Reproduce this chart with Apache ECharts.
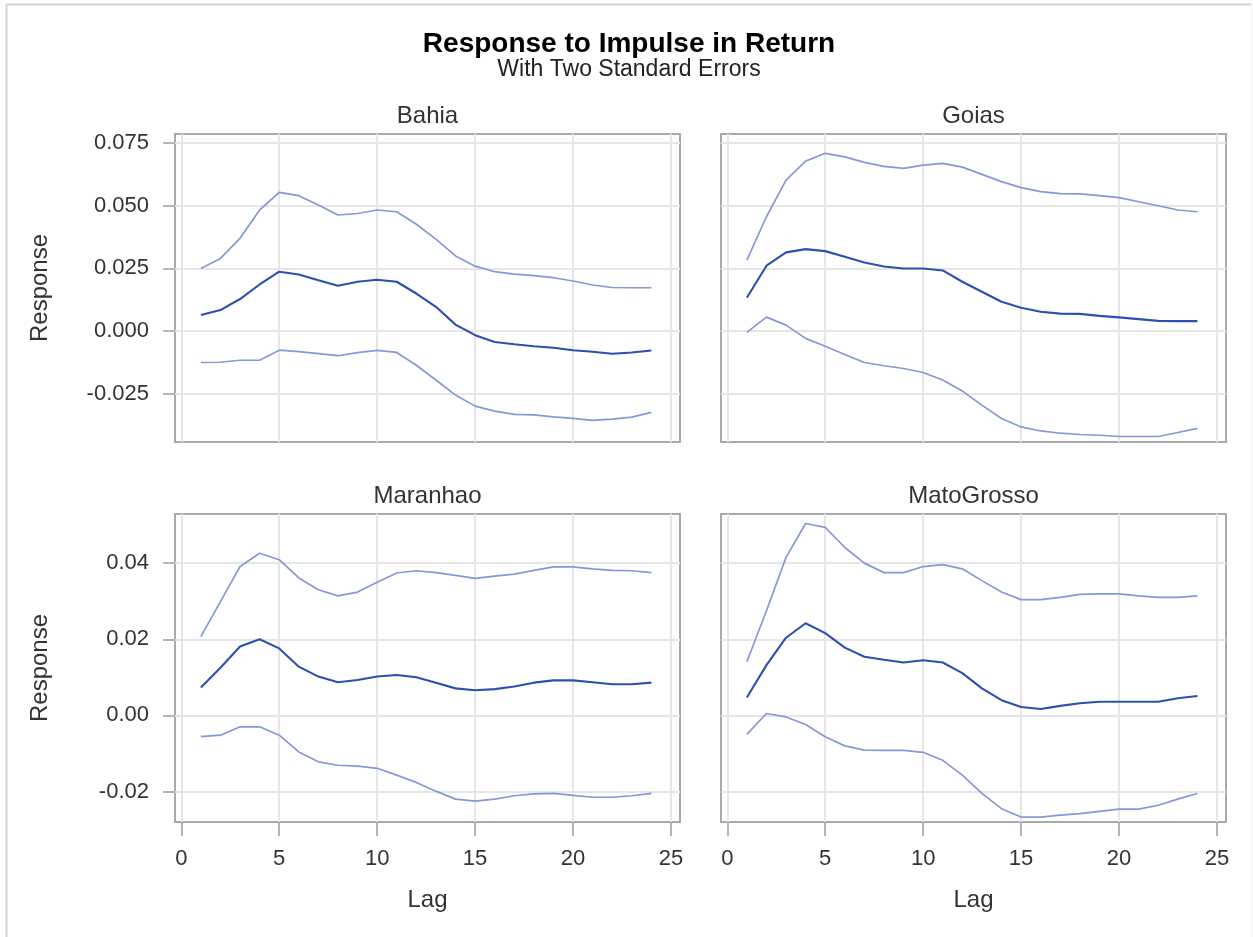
<!DOCTYPE html>
<html>
<head>
<meta charset="utf-8">
<title>Response to Impulse in Return</title>
<script src="https://cdn.jsdelivr.net/npm/echarts@6/dist/echarts.min.js"></script>
<style>
  html, body { margin: 0; padding: 0; background: #fff; }
  #chart { width: 1253px; height: 937px; }
</style>
</head>
<body>
<div id="chart"></div>
<script>
// Lags shared by every panel
const lags = [1, 2, 3, 4, 5, 6, 7, 8, 9, 10, 11, 12, 13, 14, 15, 16, 17, 18, 19, 20, 21, 22, 23, 24];

// Impulse response with upper / lower two-standard-error bounds, per state
const bahiaResp  = [0.0064, 0.0084, 0.0128, 0.0186, 0.0237, 0.0226, 0.0203, 0.0181, 0.0197, 0.0205, 0.0197, 0.0150,
                    0.0097, 0.0026, -0.0016, -0.0043, -0.0052, -0.0060, -0.0066, -0.0076, -0.0082, -0.0090, -0.0085, -0.0077];
const bahiaUpper = [0.0250, 0.0290, 0.0370, 0.0483, 0.0553, 0.0540, 0.0503, 0.0463, 0.0469, 0.0483, 0.0476, 0.0426,
                    0.0367, 0.0300, 0.0259, 0.0237, 0.0227, 0.0221, 0.0213, 0.0200, 0.0184, 0.0174, 0.0173, 0.0173];
const bahiaLower = [-0.0125, -0.0124, -0.0116, -0.0116, -0.0076, -0.0082, -0.0090, -0.0098, -0.0086, -0.0077, -0.0085, -0.0136,
                    -0.0195, -0.0255, -0.0299, -0.0319, -0.0332, -0.0334, -0.0342, -0.0348, -0.0356, -0.0351, -0.0343, -0.0324];

const goiasResp  = [0.0133, 0.0261, 0.0314, 0.0327, 0.0319, 0.0297, 0.0274, 0.0258, 0.0250, 0.0250, 0.0242, 0.0197,
                    0.0157, 0.0117, 0.0093, 0.0077, 0.0070, 0.0069, 0.0061, 0.0055, 0.0048, 0.0041, 0.0040, 0.0040];
const goiasUpper = [0.0283, 0.0456, 0.0602, 0.0678, 0.0709, 0.0695, 0.0673, 0.0657, 0.0649, 0.0662, 0.0669, 0.0654,
                    0.0625, 0.0596, 0.0572, 0.0556, 0.0548, 0.0547, 0.0540, 0.0532, 0.0516, 0.0500, 0.0483, 0.0476];
const goiasLower = [-0.0005, 0.0056, 0.0024, -0.0029, -0.0060, -0.0093, -0.0125, -0.0138, -0.0149, -0.0165, -0.0195, -0.0239,
                    -0.0295, -0.0348, -0.0382, -0.0398, -0.0407, -0.0412, -0.0415, -0.0420, -0.0420, -0.0420, -0.0404, -0.0388];

const maranhaoResp  = [0.0073, 0.0125, 0.0181, 0.0200, 0.0176, 0.0128, 0.0102, 0.0087, 0.0093, 0.0102, 0.0106, 0.0100,
                       0.0086, 0.0071, 0.0066, 0.0069, 0.0076, 0.0086, 0.0092, 0.0092, 0.0087, 0.0082, 0.0082, 0.0086];
const maranhaoUpper = [0.0207, 0.0299, 0.0391, 0.0426, 0.0409, 0.0361, 0.0330, 0.0314, 0.0324, 0.0350, 0.0374, 0.0380,
                       0.0375, 0.0368, 0.0360, 0.0366, 0.0371, 0.0381, 0.0390, 0.0390, 0.0385, 0.0381, 0.0380, 0.0375];
const maranhaoLower = [-0.0056, -0.0052, -0.0030, -0.0030, -0.0052, -0.0096, -0.0122, -0.0131, -0.0133, -0.0139, -0.0157, -0.0176,
                       -0.0199, -0.0220, -0.0225, -0.0220, -0.0211, -0.0206, -0.0205, -0.0210, -0.0215, -0.0215, -0.0211, -0.0205];

const matoGrossoResp  = [0.0047, 0.0132, 0.0204, 0.0242, 0.0216, 0.0178, 0.0154, 0.0146, 0.0139, 0.0145, 0.0139, 0.0111,
                         0.0071, 0.0040, 0.0022, 0.0017, 0.0025, 0.0032, 0.0036, 0.0036, 0.0036, 0.0036, 0.0045, 0.0051];
const matoGrossoUpper = [0.0141, 0.0275, 0.0415, 0.0504, 0.0494, 0.0441, 0.0400, 0.0375, 0.0375, 0.0391, 0.0396, 0.0385,
                         0.0354, 0.0324, 0.0304, 0.0304, 0.0310, 0.0318, 0.0319, 0.0319, 0.0314, 0.0310, 0.0310, 0.0314];
const matoGrossoLower = [-0.0050, 0.0005, -0.0004, -0.0024, -0.0056, -0.0080, -0.0091, -0.0092, -0.0092, -0.0097, -0.0118, -0.0157,
                         -0.0205, -0.0245, -0.0267, -0.0267, -0.0262, -0.0258, -0.0252, -0.0246, -0.0246, -0.0236, -0.0220, -0.0205];

// Tick labels
const lagTicks = [0, 5, 10, 15, 20, 25];
const topRowTicks = [-0.025, 0, 0.025, 0.05, 0.075];
const bottomRowTicks = [-0.02, 0, 0.02, 0.04];

const panelNames = ['Bahia', 'Goias', 'Maranhao', 'MatoGrosso'];
const panelSeries = [
  [bahiaResp, bahiaUpper, bahiaLower],
  [goiasResp, goiasUpper, goiasLower],
  [maranhaoResp, maranhaoUpper, maranhaoLower],
  [matoGrossoResp, matoGrossoUpper, matoGrossoLower]
];

// Panel layout (pixels)
const colLeft = [175, 721];
const rowTop = [134, 514];
const panelW = 505;
const panelH = 308;
const rowRange = [[-0.0442, 0.0786], [-0.028, 0.0529]];
const rowTicks = [topRowTicks, bottomRowTicks];
const rowDigits = [3, 2];

const TEXT = '#333333';
const FONT = 'Liberation Sans, Arial, sans-serif';
const FRAME = '#a6aaae';
const GRID = '#e6e6e6';
const RESP_COLOR = '#2b50b2';
const BAND_COLOR = '#8598d8';

const grids = [], xAxes = [], yAxes = [], series = [], graphics = [];

for (let p = 0; p < 4; p++) {
  const row = Math.floor(p / 2), col = p % 2;
  const bottomRow = row === 1, leftCol = col === 0;
  grids.push({
    left: colLeft[col], top: rowTop[row], width: panelW, height: panelH,
    show: true, borderColor: FRAME, borderWidth: 2, backgroundColor: '#fff'
  });
  xAxes.push({
    type: 'value', gridIndex: p, min: -0.32, max: 25.46, position: 'bottom',
    name: bottomRow ? 'Lag' : '', nameLocation: 'middle', nameGap: 66,
    nameTextStyle: { fontSize: 24, color: TEXT, fontFamily: FONT },
    axisLine: { show: false, onZero: false },
    axisTick: { show: bottomRow, length: 14, customValues: lagTicks, lineStyle: { color: '#9a9ea3', width: 1.5 } },
    axisLabel: { show: bottomRow, customValues: lagTicks, margin: 26, fontSize: 22, color: TEXT, fontFamily: FONT },
    splitLine: { show: true, lineStyle: { color: GRID, width: 2 } }
  });
  yAxes.push({
    type: 'value', gridIndex: p, min: rowRange[row][0], max: rowRange[row][1], position: 'left',
    name: leftCol ? 'Response' : '', nameLocation: 'middle', nameGap: 123,
    nameTextStyle: { fontSize: 24, color: TEXT, fontFamily: FONT },
    axisLine: { show: false, onZero: false },
    axisTick: { show: leftCol, length: 12, customValues: rowTicks[row], lineStyle: { color: '#9a9ea3', width: 1.5 } },
    axisLabel: {
      show: leftCol, customValues: rowTicks[row], margin: 26, fontSize: 22, color: TEXT, fontFamily: FONT,
      formatter: (v) => Number(v).toFixed(rowDigits[row])
    },
    splitLine: { show: true, lineStyle: { color: GRID, width: 2 } }
  });
  const [resp, upper, lower] = panelSeries[p];
  const mk = (name, vals, color, width, z) => ({
    name, type: 'line', xAxisIndex: p, yAxisIndex: p, showSymbol: false, z,
    lineStyle: { color, width }, itemStyle: { color },
    data: lags.map((l, i) => [l, vals[i]])
  });
  series.push(mk('Upper', upper, BAND_COLOR, 1.7, 2));
  series.push(mk('Lower', lower, BAND_COLOR, 1.7, 2));
  series.push(mk('Response', resp, RESP_COLOR, 2.1, 3));
  graphics.push({
    type: 'text', x: colLeft[col] + panelW / 2, y: rowTop[row] - 18,
    style: { text: panelNames[p], fill: TEXT, font: '24px ' + FONT, textAlign: 'center', textVerticalAlign: 'middle' }
  });
}

// Outer border of the figure
graphics.push({ type: 'line', shape: { x1: 6, y1: 4.5, x2: 1252, y2: 4.5 }, style: { stroke: '#d2d2d2', lineWidth: 2 } });
graphics.push({ type: 'line', shape: { x1: 6.5, y1: 4, x2: 6.5, y2: 937 }, style: { stroke: '#d6d6d6', lineWidth: 2 } });
graphics.push({ type: 'line', shape: { x1: 1251.5, y1: 4, x2: 1251.5, y2: 937 }, style: { stroke: '#efefef', lineWidth: 1 } });
// Title and subtitle
graphics.push({
  type: 'text', x: 629, y: 44.5,
  style: { text: 'Response to Impulse in Return', fill: '#000', font: 'bold 28px ' + FONT, textAlign: 'center', textVerticalAlign: 'middle' }
});
graphics.push({
  type: 'text', x: 629, y: 70,
  style: { text: 'With Two Standard Errors', fill: '#222', font: '23px ' + FONT, textAlign: 'center', textVerticalAlign: 'middle' }
});

const chart = echarts.init(document.getElementById('chart'), null, { renderer: 'canvas' });
chart.setOption({
  backgroundColor: '#ffffff',
  animation: false,
  grid: grids,
  xAxis: xAxes,
  yAxis: yAxes,
  series: series,
  graphic: graphics
});
</script>
</body>
</html>
